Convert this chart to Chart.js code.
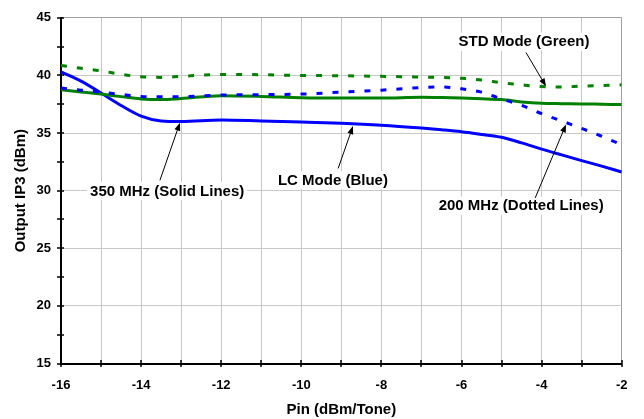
<!DOCTYPE html>
<html><head><meta charset="utf-8">
<script src="https://cdn.jsdelivr.net/npm/chart.js@4.4.0/dist/chart.umd.min.js"></script>
<style>html,body{margin:0;padding:0;background:#fff}</style>
</head><body>
<canvas id="c" width="644" height="419" style="display:block"></canvas>
<script>
// Pin (dBm/Tone)
const pin    = [-16,-15.5,-15,-14.5,-14,-13.5,-13,-12,-11,-10,-9,-8,-7,-6.5,-6,-5.5,-5,-4.5,-4,-3.5,-3,-2.5,-2];
// Output IP3 (dBm)
const std200 = [40.86,40.62,40.4,40.09,39.89,39.83,39.92,40.09,40.06,40.0,39.97,39.92,39.86,39.82,39.75,39.6,39.37,39.18,39.03,39.0,39.07,39.12,39.18];
const lc200  = [38.9,38.72,38.55,38.35,38.18,38.14,38.15,38.3,38.33,38.38,38.55,38.72,38.95,39.0,38.84,38.55,37.96,37.41,36.68,36.05,35.4,34.72,33.98];
const std350 = [38.75,38.57,38.38,38.16,37.96,37.9,38.0,38.24,38.18,38.07,38.04,38.04,38.1,38.08,38.04,37.98,37.9,37.7,37.58,37.55,37.53,37.5,37.47];
const lc350  = [40.3,39.5,38.47,37.39,36.47,36.05,36.0,36.13,36.05,35.96,35.85,35.68,35.43,35.28,35.11,34.88,34.63,34.15,33.6,33.1,32.61,32.13,31.62];

const xTitle = 'Pin (dBm/Tone)';
const yTitle = 'Output IP3 (dBm)';

// annotation labels: text, center (data), arrow tail (data), arrow head (data)
const notes = [
  {text:'STD Mode (Green)',       at:[-4.44,42.93], from:[-4.39,41.99], to:[-3.89,39.05]},
  {text:'200 MHz (Dotted Lines)', at:[-4.51,28.69], from:[-4.16,29.37], to:[-3.39,35.75]},
  {text:'LC Mode (Blue)',         at:[-9.21,30.91], from:[-9.08,31.93], to:[-8.71,35.6]},
  {text:'350 MHz (Solid Lines)',  at:[-13.35,29.97],from:[-13.53,30.9], to:[-13.03,35.9]}
];

const FONT = '"Liberation Sans", Arial, sans-serif';
const GREEN = '#008000', BLUE = '#0000ff';
const mk = (arr) => pin.map((x,i)=>({x:x,y:arr[i]}));

const tickMarks = {
  id:'tickMarks',
  afterDraw(chart){
    const ctx = chart.ctx, xs = chart.scales.x, ys = chart.scales.y, a = chart.chartArea;
    ctx.save();
    ctx.strokeStyle = '#000'; ctx.lineWidth = 1.5;
    ctx.beginPath();
    xs.ticks.forEach(t=>{const p = Math.round(xs.getPixelForValue(t.value)); ctx.moveTo(p, a.bottom-3.5); ctx.lineTo(p, a.bottom+3.5);});
    ys.ticks.forEach(t=>{const p = Math.round(ys.getPixelForValue(t.value)); ctx.moveTo(a.left-4, p); ctx.lineTo(a.left+3, p);});
    ctx.stroke();
    // annotations
    ctx.font = 'bold 15px ' + FONT;
    ctx.textAlign = 'center'; ctx.textBaseline = 'middle';
    notes.forEach(n=>{
      const cx = xs.getPixelForValue(n.at[0]), cy = ys.getPixelForValue(n.at[1]);
      const w = ctx.measureText(n.text).width;
      ctx.fillStyle = '#fff';
      ctx.fillRect(cx - w/2 - 3, cy - 9, w + 6, 18);
    });
    notes.forEach(n=>{
      const x1 = xs.getPixelForValue(n.from[0]), y1 = ys.getPixelForValue(n.from[1]);
      const x2 = xs.getPixelForValue(n.to[0]), y2 = ys.getPixelForValue(n.to[1]);
      const ang = Math.atan2(y2-y1, x2-x1), L = 8, W = 3;
      ctx.strokeStyle = '#000'; ctx.lineWidth = 1;
      ctx.beginPath(); ctx.moveTo(x1,y1);
      ctx.lineTo(x2 - Math.cos(ang)*L*0.8, y2 - Math.sin(ang)*L*0.8); ctx.stroke();
      ctx.fillStyle = '#000';
      ctx.beginPath();
      ctx.moveTo(x2,y2);
      ctx.lineTo(x2 - Math.cos(ang)*L - Math.sin(ang)*W, y2 - Math.sin(ang)*L + Math.cos(ang)*W);
      ctx.lineTo(x2 - Math.cos(ang)*L + Math.sin(ang)*W, y2 - Math.sin(ang)*L - Math.cos(ang)*W);
      ctx.closePath(); ctx.fill();
    });
    notes.forEach(n=>{
      const cx = xs.getPixelForValue(n.at[0]), cy = ys.getPixelForValue(n.at[1]);
      ctx.fillStyle = '#000';
      ctx.fillText(n.text, cx, cy+0.5);
    });
    ctx.restore();
  }
};

const common = {pointRadius:0, borderWidth:3, fill:false, cubicInterpolationMode:'monotone', borderCapStyle:'butt'};

new Chart(document.getElementById('c'), {
  type:'line',
  data:{datasets:[
    Object.assign({label:'STD 200 MHz', data:mk(std200), borderColor:GREEN, borderDash:[6,10]}, common),
    Object.assign({label:'LC 200 MHz',  data:mk(lc200),  borderColor:BLUE,  borderDash:[6,10]}, common),
    Object.assign({label:'STD 350 MHz', data:mk(std350), borderColor:GREEN}, common),
    Object.assign({label:'LC 350 MHz',  data:mk(lc350),  borderColor:BLUE}, common)
  ]},
  options:{
    responsive:false, animation:false, devicePixelRatio:1,
    layout:{padding:{top:11.7, right:22.3, left:0, bottom:0}},
    plugins:{legend:{display:false}, tooltip:{enabled:false}},
    scales:{
      x:{type:'linear', min:-16, max:-2,
        afterFit:(s)=>{s.height = 55.5;},
        ticks:{stepSize:1, autoSkip:false, maxRotation:0, padding:14, color:'#000',
          font:{family:FONT, size:13, weight:'bold'},
          callback:(v)=> (Math.round(v)%2===0 ? String(v) : '')},
        grid:{color:(c)=> (c.tick && c.tick.value===-2 ? '#a0a0a0' : '#c8c8c8'), lineWidth:1, drawTicks:false},
        border:{color:'#000', width:2},
        title:{display:true, text:xTitle, color:'#000', font:{family:FONT, size:15, weight:'bold'}, padding:{top:2, bottom:0}}
      },
      y:{min:15, max:45,
        afterFit:(s)=>{s.width = 61;},
        ticks:{stepSize:2.5, autoSkip:false, padding:10, color:'#000',
          font:{family:FONT, size:13, weight:'bold'},
          callback:(v)=> (v%5===0 ? String(v) : '')},
        grid:{color:(c)=> (c.tick && c.tick.value%5===0 ? (c.tick.value===45 ? '#a0a0a0' : '#c8c8c8') : 'rgba(0,0,0,0)'), lineWidth:1, drawTicks:false},
        border:{color:'#000', width:2},
        title:{display:true, text:yTitle, color:'#000', font:{family:FONT, size:15, weight:'bold'}, padding:{top:12, bottom:0}}
      }
    }
  },
  plugins:[tickMarks]
});
</script>
</body></html>
